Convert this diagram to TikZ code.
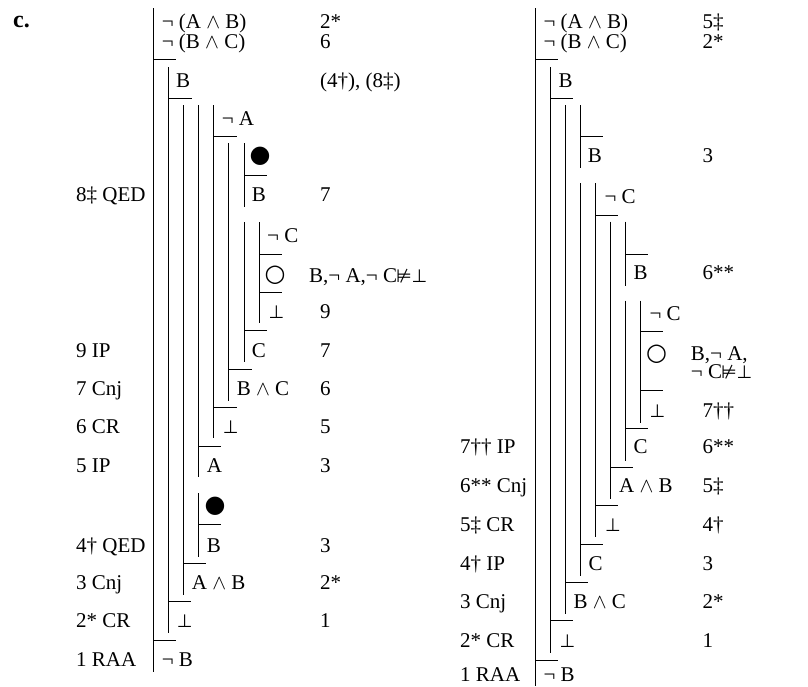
\documentclass[tikz,border=0pt]{standalone}
\usepackage{fontspec}
\setmainfont{Liberation Serif}
\newfontfamily\symf{DejaVu Sans}
\newcommand\Sand{\ensuremath{\wedge}}
\newcommand\Sbot{{\symf\fontsize{18}{18}\selectfont ⊥}}
\newcommand\Snvd{{\symf\fontsize{18}{18}\selectfont ⊭}}
\begin{document}
\begin{tikzpicture}[x=1pt,y=-1pt,
  t/.style={anchor=base west,inner sep=0pt,font=\fontsize{21}{21}\selectfont},
  dotsym/.style={anchor=center,inner sep=0pt,font=\symf\fontsize{24}{24}\selectfont},
  pl/.style={line width=1pt}
]
\useasboundingbox (0,0) rectangle (808,686);
\node[t,font=\bfseries\fontsize{24}{24}\selectfont] (lab) at (13,27) {c.};
% ---------------- left proof: lines
\draw[pl] (153.5,8) -- (153.5,672);
\draw[pl] (168.5,67) -- (168.5,633);
\draw[pl] (183.3,105) -- (183.3,595);
\draw[pl] (198.5,105) -- (198.5,477);
\draw[pl] (198.5,493) -- (198.5,557);
\draw[pl] (213.7,105) -- (213.7,438);
\draw[pl] (228.7,143) -- (228.7,401);
\draw[pl] (244,143) -- (244,207);
\draw[pl] (244,222) -- (244,362);
\draw[pl] (259.3,222) -- (259.3,323);
\draw[pl] (153.5,59.3) -- (176,59.3);
\draw[pl] (168.5,98.3) -- (191.7,98.3);
\draw[pl] (213.7,136) -- (236.7,136);
\draw[pl] (244,175) -- (266.7,175);
\draw[pl] (259.3,254) -- (281.7,254);
\draw[pl] (259.3,292.3) -- (281.7,292.3);
\draw[pl] (244,330) -- (266.7,330);
\draw[pl] (228.7,369.3) -- (251.7,369.3);
\draw[pl] (213.7,407.3) -- (236.7,407.3);
\draw[pl] (198.5,446) -- (221,446);
\draw[pl] (198.5,524.3) -- (221,524.3);
\draw[pl] (183.3,563.3) -- (205.7,563.3);
\draw[pl] (168.5,601) -- (191,601);
\draw[pl] (153.5,640.7) -- (176,640.7);
% ---------------- left proof: texts
\node[t] (a1) at (161.7,28.7) {¬ (A \Sand{} B)};
\node[t] (a2) at (161.7,48.7) {¬ (B \Sand{} C)};
\node[t] (a1r) at (320,28.7) {2*};
\node[t] (a2r) at (320,48.7) {6};
\node[t] (a3) at (176,87) {B};
\node[t] (a3r) at (320,87) {(4†), (8‡)};
\node[t] (a4) at (221.7,125.3) {¬ A};
\node[dotsym] (a5) at (260,156.7) {●};
\node[t] (a6) at (251.7,201.3) {B};
\node[t] (a6r) at (320,201.3) {7};
\node[t] (a6l) at (76,201.3) {8‡ QED};
\node[t] (a7) at (267,242) {¬ C};
\node[dotsym] (a8) at (275,275) {○};
\node[t] (a8r) at (309,282) {B,¬ A,¬ C\kern-1pt\Snvd\Sbot};
\node[t] (a9) at (268.3,318.7) {\Sbot};
\node[t] (a9r) at (320,318.7) {9};
\node[t] (a10) at (251.7,357) {C};
\node[t] (a10r) at (320,357) {7};
\node[t] (a10l) at (76,357) {9 IP};
\node[t] (a11) at (236.7,395.3) {B \Sand{} C};
\node[t] (a11r) at (320,395.3) {6};
\node[t] (a11l) at (76,395.3) {7 Cnj};
\node[t] (a12) at (222.7,433.7) {\Sbot};
\node[t] (a12r) at (320,433.7) {5};
\node[t] (a12l) at (76,433.7) {6 CR};
\node[t] (a13) at (206.7,472) {A};
\node[t] (a13r) at (320,472) {3};
\node[t] (a13l) at (76,472) {5 IP};
\node[dotsym] (a14) at (215,506.7) {●};
\node[t] (a15) at (206.7,552) {B};
\node[t] (a15r) at (320,552) {3};
\node[t] (a15l) at (76,552) {4† QED};
\node[t] (a16) at (191.7,589.7) {A \Sand{} B};
\node[t] (a16r) at (320,589.7) {2*};
\node[t] (a16l) at (76,589.7) {3 Cnj};
\node[t] (a17) at (176.7,627.7) {\Sbot};
\node[t] (a17r) at (320,627.7) {1};
\node[t] (a17l) at (76,627.7) {2* CR};
\node[t] (a18) at (161.7,666) {¬ B};
\node[t] (a18l) at (76,666) {1 RAA};
% ---------------- right proof: lines
\draw[pl] (535.7,8) -- (535.7,686);
\draw[pl] (550.3,67) -- (550.3,652.7);
\draw[pl] (565.3,105) -- (565.3,614);
\draw[pl] (580.3,105) -- (580.3,168.3);
\draw[pl] (580.3,183.3) -- (580.3,576);
\draw[pl] (595.3,183.3) -- (595.3,536.7);
\draw[pl] (610.7,221.7) -- (610.7,499.3);
\draw[pl] (625.7,221.7) -- (625.7,286);
\draw[pl] (625.7,300.7) -- (625.7,460.7);
\draw[pl] (640.7,300.7) -- (640.7,422.7);
\draw[pl] (535.7,59.3) -- (557.7,59.3);
\draw[pl] (550.3,98.3) -- (573.3,98.3);
\draw[pl] (580.3,136) -- (603.3,136);
\draw[pl] (595.3,215) -- (618.3,215);
\draw[pl] (625.7,254) -- (648.3,254);
\draw[pl] (640.7,331.7) -- (663.3,331.7);
\draw[pl] (640.7,390.7) -- (663.3,390.7);
\draw[pl] (625.7,428.3) -- (648.3,428.3);
\draw[pl] (610.7,467.3) -- (633.3,467.3);
\draw[pl] (595.3,505) -- (618.3,505);
\draw[pl] (580.3,544) -- (603.3,544);
\draw[pl] (565.3,582.7) -- (588.3,582.7);
\draw[pl] (550.3,620.7) -- (573.3,620.7);
\draw[pl] (535.7,660) -- (557.7,660);
% ---------------- right proof: texts
\node[t] (b1) at (543.3,28.7) {¬ (A \Sand{} B)};
\node[t] (b1r) at (702.3,28.7) {5‡};
\node[t] (b2) at (543.3,48.7) {¬ (B \Sand{} C)};
\node[t] (b2r) at (702.3,48.7) {2*};
\node[t] (b3) at (558.3,87) {B};
\node[t] (b4) at (587.7,162) {B};
\node[t] (b4r) at (702.3,162) {3};
\node[t] (b5) at (604.3,203.7) {¬ C};
\node[t] (b6) at (633.3,279.7) {B};
\node[t] (b6r) at (702.3,279.7) {6**};
\node[t] (b7) at (649.3,320.3) {¬ C};
\node[dotsym] (b8) at (656.7,354) {○};
\node[t,align=left,font=\fontsize{21}{18.4}\selectfont] (b8r) at (690.7,378.7) {B,¬ A,\\¬ C\kern-1pt\Snvd\Sbot};
\node[t] (b9) at (649.3,417) {\Sbot};
\node[t] (b9r) at (702.3,417) {7††};
\node[t] (b10) at (633.3,453.7) {C};
\node[t] (b10r) at (702.3,453.7) {6**};
\node[t] (b10l) at (460,453.7) {7†† IP};
\node[t] (b11) at (619,492.5) {A \Sand{} B};
\node[t] (b11r) at (702.3,492.5) {5‡};
\node[t] (b11l) at (460,492.5) {6** Cnj};
\node[t] (b12) at (605,531.3) {\Sbot};
\node[t] (b12r) at (702.3,531.3) {4†};
\node[t] (b12l) at (460,531.3) {5‡ CR};
\node[t] (b13) at (588.3,570.1) {C};
\node[t] (b13r) at (702.3,570.1) {3};
\node[t] (b13l) at (460,570.1) {4† IP};
\node[t] (b14) at (573.3,608.9) {B \Sand{} C};
\node[t] (b14r) at (702.3,608.9) {2*};
\node[t] (b14l) at (460,608.9) {3 Cnj};
\node[t] (b15) at (559.3,647.7) {\Sbot};
\node[t] (b15r) at (702.3,647.7) {1};
\node[t] (b15l) at (460,647.7) {2* CR};
\node[t] (b16) at (543.3,681) {¬ B};
\node[t] (b16l) at (460,681) {1 RAA};
\end{tikzpicture}
\end{document}
